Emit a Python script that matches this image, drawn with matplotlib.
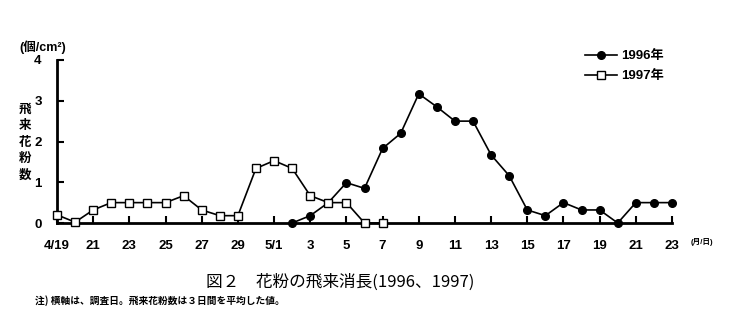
import matplotlib as mpl
mpl.use('Agg')
import numpy as np
import matplotlib.pyplot as plt

# daily pollen counts (3-day averages), grains/cm2
# day 0 = 4/19, day 34 = 5/23
days_1997 = list(range(0, 19))          # 4/19 .. 5/7
vals_1997 = [0.2, 0.02, 0.32, 0.5, 0.5, 0.5, 0.5, 0.67, 0.32, 0.18, 0.18,
             1.34, 1.53, 1.34, 0.67, 0.5, 0.5, 0.0, 0.0]
days_1996 = list(range(13, 35))         # 5/2 .. 5/23
vals_1996 = [0.0, 0.18, 0.5, 0.99, 0.85, 1.83, 2.2, 3.17, 2.85, 2.5, 2.5,
             1.67, 1.16, 0.32, 0.18, 0.5, 0.32, 0.32, 0.0, 0.5, 0.5, 0.5]

tick_days = list(range(0, 35, 2))
tick_labels = ["4/19", "21", "23", "25", "27", "29", "5/1", "3", "5", "7",
               "9", "11", "13", "15", "17", "19", "21", "23"]
y_ticks = [0, 1, 2, 3, 4]

num_font = 'Liberation Sans'
jp_font = ['Liberation Sans', 'Noto Sans CJK JP']

fig = plt.figure(figsize=(7.52, 3.33), dpi=100)
ax = fig.add_axes([57/752, 1-223/333, (672-57)/752, (223-60)/333])

ax.plot(days_1996, vals_1996, 'k-', lw=1.2, marker='o', ms=5.5,
        mfc='k', mec='k', label='1996年', clip_on=False, zorder=3)
ax.plot(days_1997, vals_1997, 'k-', lw=1.2, marker='s', ms=5.5,
        mfc='white', mec='k', mew=1.0, label='1997年', clip_on=False, zorder=4)

ax.set_xlim(0, 34)
ax.set_ylim(0, 4)
ax.spines['top'].set_visible(False)
ax.spines['right'].set_visible(False)
ax.spines['left'].set_linewidth(2)
ax.spines['bottom'].set_linewidth(2)

ax.set_xticks(tick_days)
ax.set_xticklabels(tick_labels, fontfamily=num_font, fontweight='bold', fontsize=9.5)
ax.set_yticks(y_ticks)
ax.set_yticklabels([str(v) for v in y_ticks], fontfamily=num_font, fontweight='bold', fontsize=9.5)
ax.tick_params(axis='x', direction='in', length=5, width=1.5, pad=12)
ax.tick_params(axis='y', direction='in', length=5, width=1.5, pad=11)

leg = ax.legend(loc='upper left', bbox_to_anchor=(585/752, 1-50/333),
                bbox_transform=fig.transFigure, frameon=False,
                prop={'family': jp_font, 'weight': 'bold', 'size': 9.5},
                handlelength=2.4, handletextpad=0.3, labelspacing=0.6,
                borderaxespad=0, borderpad=0)

# axis captions
fig.text(43/752, 1-47/333, '(個/cm²)', ha='center', va='center',
         family=jp_font, fontweight='bold', fontsize=9)
fig.text(25/752, 1-143/333, '\n'.join('飛来花粉数'), ha='center', va='center',
         family=jp_font, fontweight='bold', fontsize=9, linespacing=1.5)
fig.text(702/752, 1-242/333, '(月/日)', ha='center', va='center',
         family=jp_font, fontweight='bold', fontsize=5.5)

fig.text(340/752, 1-282/333, '図２　花粉の飛来消長(1996、1997)', ha='center', va='center',
         family=['Noto Sans CJK JP'], fontsize=12)
fig.text(35/752, 1-301/333, '注) 横軸は、調査日。飛来花粉数は３日間を平均した値。', ha='left', va='center',
         family=['Noto Sans CJK JP'], fontweight='bold', fontsize=7)

fig.savefig('out.png', dpi=100)
